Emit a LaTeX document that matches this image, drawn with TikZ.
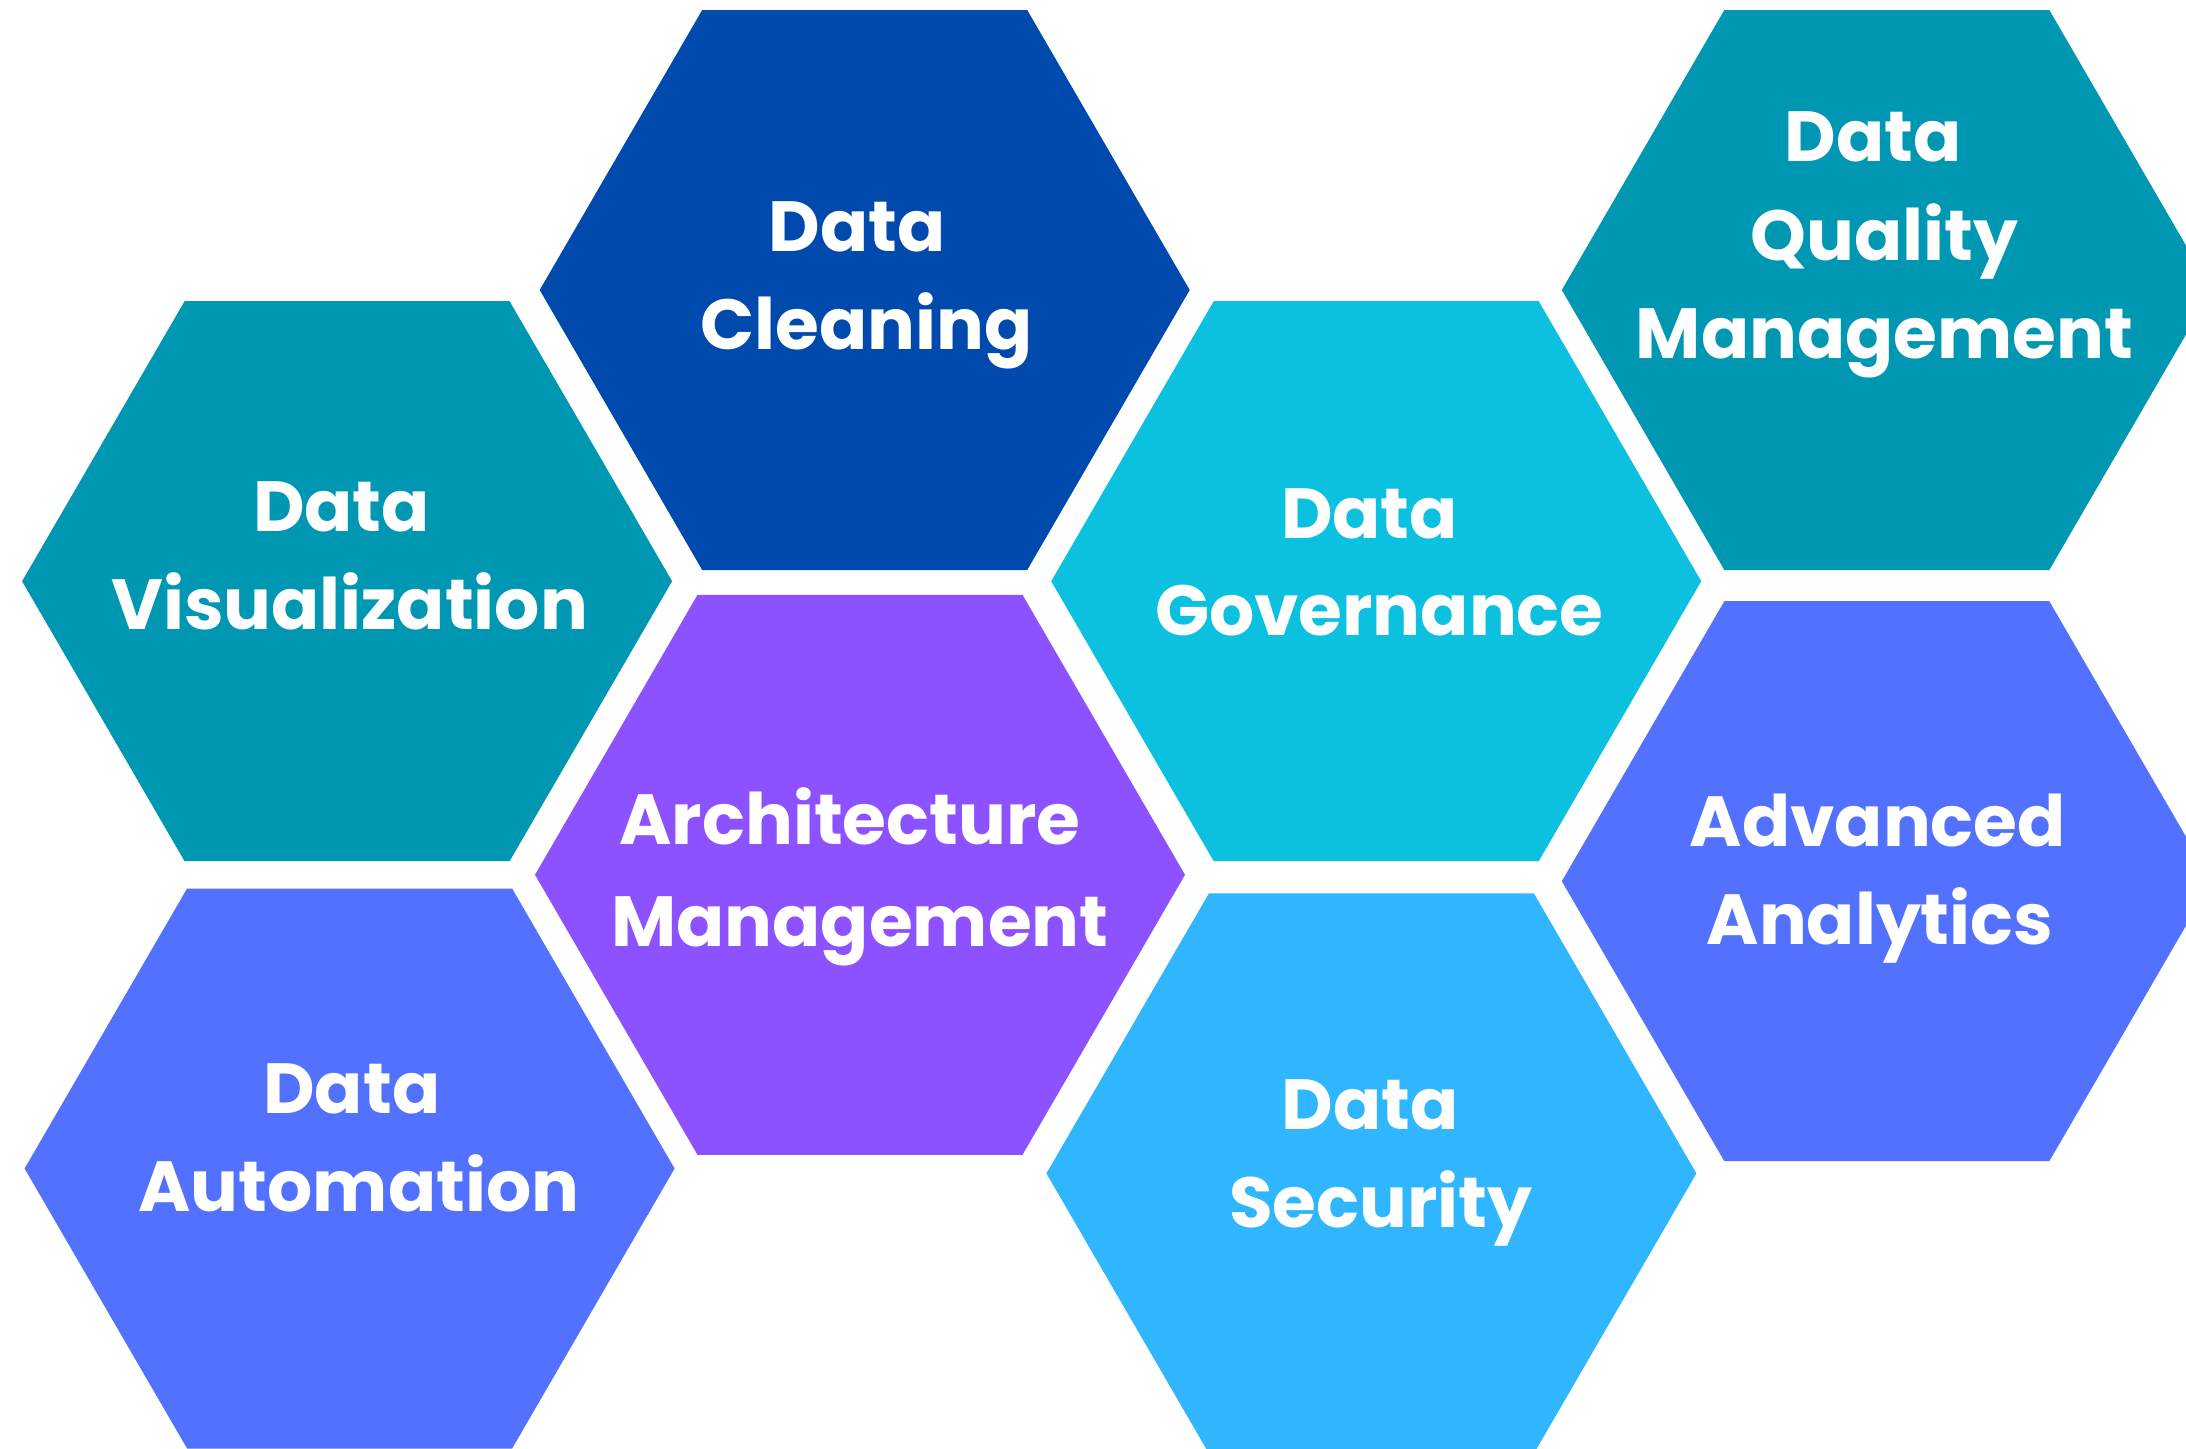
\documentclass[tikz,border=0pt]{standalone}
\usepackage{fontspec}
\setmainfont{Poppins}
\definecolor{cClean}{HTML}{004AAD}
\definecolor{cTeal}{HTML}{0097B2}
\definecolor{cPurple}{HTML}{8C52FF}
\definecolor{cBlue}{HTML}{5271FF}
\definecolor{cCyan}{HTML}{0CC0DF}
\definecolor{cSky}{HTML}{2FB6FF}
\tikzset{
  lbl/.style={anchor=base, text=white, inner sep=0pt,
    font=\fontsize{71}{85}\selectfont\bfseries},
}
\newcommand{\hexat}[3]{% x, y, colour
  \fill[#3] (#1+325,#2) -- (#1+162.5,#2+280) -- (#1-162.5,#2+280)
    -- (#1-325,#2) -- (#1-162.5,#2-280) -- (#1+162.5,#2-280) -- cycle;}
\begin{document}
\begin{tikzpicture}[x=1pt,y=-1pt]
\useasboundingbox (0,0) rectangle (2186,1448);
\clip (0,0) rectangle (2186,1448);
\fill[white] (0,0) rectangle (2186,1448);
% hexagons
\hexat{864.7}{290}{cClean}
\hexat{347.1}{581.2}{cTeal}
\hexat{860}{874.8}{cPurple}
\hexat{349.6}{1168.5}{cBlue}
\hexat{1376.2}{581.2}{cCyan}
\hexat{1371.4}{1173.4}{cSky}
\hexat{1886.8}{290}{cTeal}
\hexat{1886.8}{881.2}{cBlue}
% labels
\node[lbl] (cl1) at (857,251.8) {Data};
\node[lbl] (cl2) at (866.5,349.4) {Cleaning};
\node[lbl] (vi1) at (341.5,531.8) {Data};
\node[lbl] (vi2) at (349.7,629.4) {Visualization};
\node[lbl] (ar1) at (850,844) {Architecture};
\node[lbl] (ar2) at (860,946) {Management};
\node[lbl] (au1) at (351.8,1113.5) {Data};
\node[lbl] (au2) at (358.9,1211.5) {Automation};
\node[lbl] (go1) at (1369.5,538.3) {Data};
\node[lbl] (go2) at (1379.3,635.9) {Governance};
\node[lbl] (se1) at (1369.8,1129.2) {Data};
\node[lbl] (se2) at (1380.8,1227.2) {Security};
\node[lbl] (qu1) at (1873,161.9) {Data};
\node[lbl] (qu2) at (1884.5,260.2) {Quality};
\node[lbl] (qu3) at (1884.4,358.2) {Management};
\node[lbl] (ad1) at (1877.8,846.4) {Advanced};
\node[lbl] (ad2) at (1880,944.3) {Analytics};
\end{tikzpicture}
\end{document}
